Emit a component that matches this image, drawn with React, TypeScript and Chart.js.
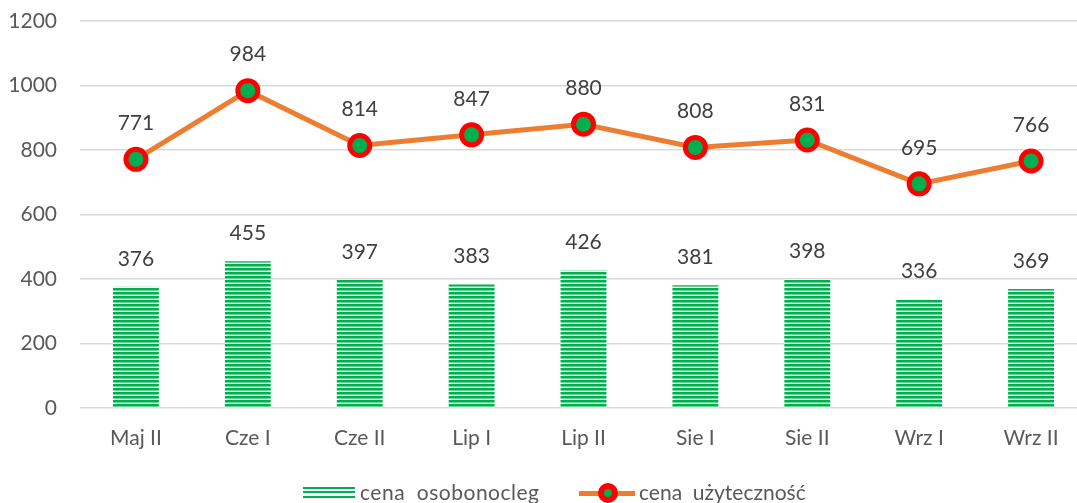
import React, { useEffect, useRef } from "react";
import { Chart, registerables } from "chart.js";
Chart.register(...registerables);

const categories = ["Maj II", "Cze I", "Cze II", "Lip I", "Lip II", "Sie I", "Sie II", "Wrz I", "Wrz II"];
const osobonocleg = [376, 455, 397, 383, 426, 381, 398, 336, 369];
const uzytecznosc = [771, 984, 814, 847, 880, 808, 831, 695, 766];
const yMin = 0;
const yMax = 1200;
const yStep = 200;
const seriesNames = ["cena  osobonocleg", "cena  użyteczność"];

const FONT = "Lato, 'Open Sans', sans-serif";
const FS = 21;
const TEXT = "#595959";
const LABEL = "#404040";
const GREEN = "#00B050";
const ORANGE = "#ED7D31";
const RED = "#FF0000";

function makeStripes(): CanvasPattern | string {
  const c = document.createElement("canvas");
  c.width = 4;
  c.height = 4;
  const ctx = c.getContext("2d");
  if (!ctx) return GREEN;
  ctx.fillStyle = "#ffffff";
  ctx.fillRect(0, 0, 4, 4);
  ctx.fillStyle = GREEN;
  ctx.fillRect(0, 0, 4, 2);
  ctx.fillStyle = "#6fd19a";
  ctx.fillRect(0, 2, 4, 1);
  return ctx.createPattern(c, "repeat") || GREEN;
}

const valueLabels = {
  id: "valueLabels",
  afterDatasetsDraw(chart: any) {
    const ctx = chart.ctx;
    ctx.save();
    ctx.font = `${FS}px ${FONT}`;
    ctx.fillStyle = LABEL;
    ctx.textAlign = "center";
    ctx.textBaseline = "middle";
    chart.data.datasets.forEach((ds: any, i: number) => {
      const meta = chart.getDatasetMeta(i);
      const off = ds.type === "line" ? 36 : 28;
      meta.data.forEach((el: any, j: number) => {
        ctx.fillText(String(ds.data[j]), el.x, el.y - off);
      });
    });
    ctx.restore();
  },
};

const legendText: React.CSSProperties = {
  position: "absolute",
  top: 480,
  fontFamily: FONT,
  fontSize: FS,
  color: TEXT,
  whiteSpace: "pre",
  lineHeight: "24px",
};

export default function App() {
  const ref = useRef<HTMLCanvasElement | null>(null);
  useEffect(() => {
    if (!ref.current) return;
    const chart = new Chart(ref.current, {
      type: "bar",
      data: {
        labels: categories,
        datasets: [
          {
            type: "line",
            label: seriesNames[1],
            data: uzytecznosc,
            borderColor: ORANGE,
            borderWidth: 5,
            pointRadius: 10,
            pointBorderWidth: 5,
            pointBackgroundColor: GREEN,
            pointBorderColor: RED,
            tension: 0,
            order: 0,
          } as any,
          {
            type: "bar",
            label: seriesNames[0],
            data: osobonocleg,
            backgroundColor: makeStripes() as any,
            borderWidth: 0,
            barPercentage: 0.41,
            categoryPercentage: 1,
            order: 1,
          } as any,
        ],
      },
      options: {
        animation: false,
        responsive: false,
        maintainAspectRatio: false,
        layout: { autoPadding: false, padding: { top: 21, right: 0, left: 0, bottom: 0 } },
        plugins: {
          legend: { display: false },
          tooltip: { enabled: false },
        },
        scales: {
          x: {
            grid: {
              display: true,
              drawOnChartArea: false,
              drawTicks: true,
              tickLength: 18,
              color: "rgba(0,0,0,0)",
            },
            border: { display: false },
            ticks: { color: TEXT, font: { family: FONT, size: FS }, padding: 0 },
            afterFit: (s: any) => {
              s.height = 95;
              s.paddingLeft = 0;
              s.paddingRight = 0;
            },
          },
          y: {
            min: yMin,
            max: yMax,
            ticks: {
              stepSize: yStep,
              color: TEXT,
              font: { family: FONT, size: FS },
              padding: 23,
              callback: (v: any) => String(v),
            },
            grid: { color: "#d9d9d9", lineWidth: 1.5, drawTicks: false },
            border: { display: false },
            afterFit: (s: any) => {
              s.width = 80;
              s.paddingTop = 0;
              s.paddingBottom = 0;
            },
          },
        },
      },
      plugins: [valueLabels],
    });
    return () => chart.destroy();
  }, []);

  return (
    <div style={{ position: "fixed", left: 0, top: 0, width: 1077, height: 503, overflow: "hidden", background: "#fff" }}>
      <canvas ref={ref} width={1087} height={503} style={{ position: "absolute", left: 0, top: 0, width: 1087, height: 503 }} />
      <span
        style={{
          position: "absolute",
          left: 303,
          top: 487,
          width: 52,
          height: 13,
          background: `repeating-linear-gradient(to bottom, ${GREEN} 0px, ${GREEN} 2px, #ffffff 2px, #ffffff 4.3px)`,
        }}
      />
      <span style={{ ...legendText, left: 360, letterSpacing: 0.5 }}>{seriesNames[0]}</span>
      <span style={{ position: "absolute", left: 579, top: 491, width: 56, height: 5, background: ORANGE }} />
      <span
        style={{
          position: "absolute",
          left: 597.5,
          top: 483,
          width: 8,
          height: 8,
          borderRadius: "50%",
          background: GREEN,
          border: `6px solid ${RED}`,
        }}
      />
      <span style={{ ...legendText, left: 639 }}>{seriesNames[1]}</span>
    </div>
  );
}
